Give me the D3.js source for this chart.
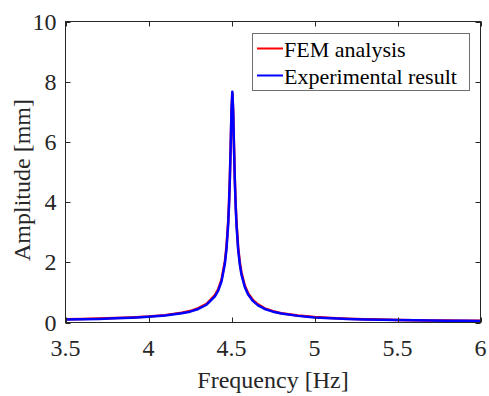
<!DOCTYPE html>
<html><head><meta charset="utf-8"><script src="https://cdn.jsdelivr.net/npm/d3@7"></script></head>
<body style="margin:0">
<svg id="chart" width="489" height="396"></svg>
<script>
// ---- data ----
const freq = [3.5, 3.6, 3.7, 3.8, 3.9, 4.0, 4.1, 4.2, 4.25, 4.3, 4.35, 4.4, 4.42, 4.44, 4.46, 4.47, 4.48, 4.485, 4.49, 4.495, 4.5, 4.505, 4.51, 4.515, 4.52, 4.525, 4.53, 4.54, 4.55, 4.56, 4.58, 4.6, 4.63, 4.66, 4.7, 4.75, 4.8, 4.9, 5.0, 5.1, 5.2, 5.3, 5.4, 5.5, 5.6, 5.7, 5.8, 5.9, 6.0];
const femAmp = [0.11, 0.12, 0.13, 0.15, 0.17, 0.20, 0.245, 0.325, 0.38, 0.475, 0.62, 0.91, 1.11, 1.43, 2.02, 2.53, 3.36, 3.98, 4.80, 5.85, 7.00, 7.62, 7.02, 5.86, 4.78, 3.95, 3.33, 2.51, 2.00, 1.66, 1.23, 0.97, 0.74, 0.60, 0.47, 0.375, 0.31, 0.23, 0.18, 0.148, 0.126, 0.109, 0.096, 0.085, 0.077, 0.070, 0.064, 0.059, 0.055];
const expAmp = [0.10, 0.11, 0.12, 0.14, 0.16, 0.19, 0.23, 0.31, 0.36, 0.45, 0.59, 0.87, 1.06, 1.37, 1.95, 2.45, 3.27, 3.90, 4.74, 5.85, 7.07, 7.67, 7.05, 5.83, 4.72, 3.87, 3.25, 2.43, 1.93, 1.59, 1.18, 0.93, 0.71, 0.57, 0.45, 0.36, 0.30, 0.22, 0.17, 0.14, 0.12, 0.10, 0.09, 0.08, 0.073, 0.067, 0.061, 0.056, 0.052];
const xTicks = [3.5, 4, 4.5, 5, 5.5, 6];
const yTicks = [0, 2, 4, 6, 8, 10];
const seriesNames = ["FEM analysis", "Experimental result"];
const seriesColors = ["#ff0000", "#0000ff"];
const xLabel = "Frequency [Hz]";
const yLabel = "Amplitude [mm]";

// ---- layout ----
const L = 65.5, R = 480.5, T = 21.5, B = 322.5;
const svg = d3.select("#chart");
const x = d3.scaleLinear().domain([3.5, 6]).range([L, R]);
const y = d3.scaleLinear().domain([0, 10]).range([B, T]);
const axisColor = "#262626";
const tickLen = 5;

// text first, so the serif font is requested at the first layout
function addText(str, size) {
  return svg.append("text")
    .attr("class", "lbl")
    .style("font-family", `"Liberation Serif"`)
    .style("font-size", size + "px")
    .attr("fill", axisColor)
    .text(str);
}
xTicks.forEach(v => {
  addText(String(v), 24).attr("x", x(v)).attr("y", B + 33).attr("text-anchor", "middle");
});
yTicks.forEach(v => {
  addText(String(v), 24).attr("x", L - 9).attr("y", y(v) + 8).attr("text-anchor", "end");
});
addText(xLabel, 24).attr("x", (L + R) / 2).attr("y", 388).attr("text-anchor", "middle");
addText(yLabel, 24).attr("transform", `translate(30,${(T + B) / 2 + 8}) rotate(-90)`).attr("text-anchor", "middle");

// curves
const line = d3.line().x(d => x(d[0])).y(d => y(d[1]));
[femAmp, expAmp].forEach((vals, i) => {
  svg.append("path")
    .datum(freq.map((f, j) => [f, vals[j]]))
    .attr("fill", "none")
    .attr("stroke", seriesColors[i])
    .attr("stroke-width", 2.5)
    .attr("stroke-linejoin", "round")
    .attr("d", line);
});

// axes box and inward ticks, from the scales
svg.append("rect")
  .attr("x", L).attr("y", T).attr("width", R - L).attr("height", B - T)
  .attr("fill", "none").attr("stroke", axisColor).attr("stroke-width", 1);
svg.selectAll(".xt").data(xTicks).join("path").attr("class", "xt")
  .attr("stroke", axisColor).attr("stroke-width", 1)
  .attr("d", d => `M${Math.round(x(d)) + 0.5},${B}V${B - tickLen}M${Math.round(x(d)) + 0.5},${T}V${T + tickLen}`);
svg.selectAll(".yt").data(yTicks).join("path").attr("class", "yt")
  .attr("stroke", axisColor).attr("stroke-width", 1)
  .attr("d", d => `M${L},${Math.round(y(d)) + 0.5}H${L + tickLen}M${R},${Math.round(y(d)) + 0.5}H${R - tickLen}`);

// legend
svg.append("rect")
  .attr("x", 252.5).attr("y", 33.5).attr("width", 217).attr("height", 57)
  .attr("fill", "#fff").attr("stroke", "#6e6e6e").attr("stroke-width", 1);
const rowsY = [48.5, 75.5];
seriesNames.forEach((name, i) => {
  svg.append("line")
    .attr("x1", 257).attr("x2", 283)
    .attr("y1", rowsY[i]).attr("y2", rowsY[i])
    .attr("stroke", seriesColors[i]).attr("stroke-width", 2);
  addText(name, 22).attr("x", 284).attr("y", rowsY[i] + 8).attr("fill", "#000");
});

// re-apply the family once the font is ready
if (document.fonts && document.fonts.load) {
  document.fonts.load('24px "Liberation Serif"').then(() => {
    svg.selectAll("text.lbl").style("font-family", `"Liberation Serif"`);
  });
}
</script>
</body></html>
